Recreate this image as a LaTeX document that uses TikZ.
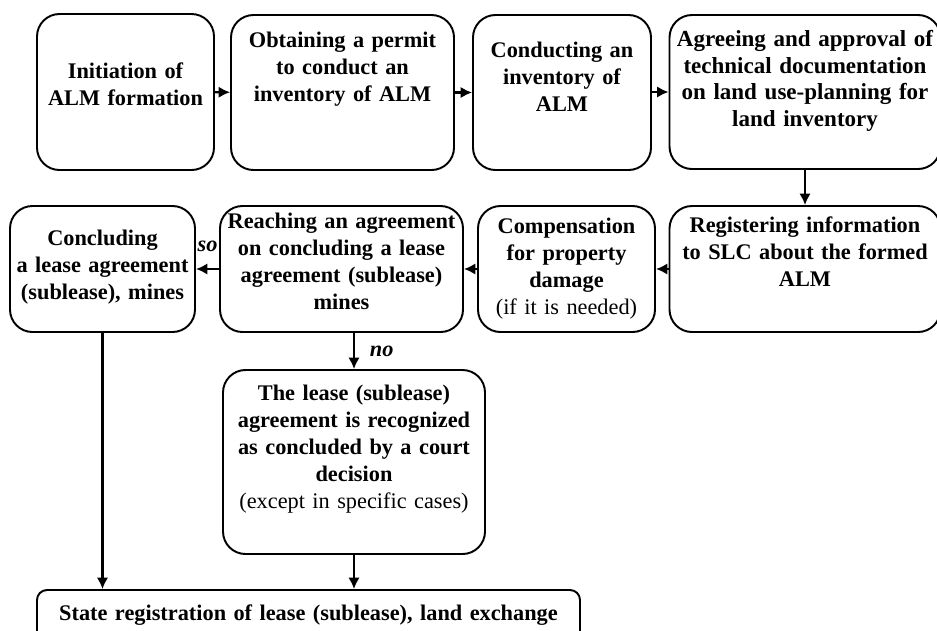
\documentclass[tikz,border=0pt]{standalone}
\usepackage{fontspec}
\setmainfont{Liberation Serif}
\usepackage{tikz}
\usetikzlibrary{arrows.meta}

\begin{document}
\begin{tikzpicture}[
    stage/.style={draw, line width=1.1pt, rounded corners=0.45cm, inner sep=0pt,
      align=center, font=\fontsize{12.7}{15.4}\selectfont\bfseries},
    arrowline/.style={line width=1.2pt, -{Latex[length=2.3mm,width=2.3mm]}},
    answer/.style={font=\fontsize{12.7}{15.4}\selectfont\bfseries\itshape}]
\useasboundingbox (0,0) rectangle (18.74,-12.6);
   % first row
   \node[stage, text width=3.54cm, minimum height=3.12cm, text depth=0.86cm] (init) at (2.51,-1.84)
      {Initiation of\\ALM formation};
   \node[stage, text width=4.46cm, minimum height=3.10cm, text depth=2.12cm] (permit) at (6.85,-1.85)
      {Obtaining a permit\\to conduct an\\inventory of ALM};
   \node[stage, text width=3.56cm, minimum height=3.10cm, text depth=1.72cm] (conduct) at (11.24,-1.85)
      {Conducting an\\inventory of\\ALM};
   \node[stage, text width=5.42cm, minimum height=3.08cm, text depth=2.15cm,
      font=\fontsize{13.1}{15.2}\selectfont\bfseries] (approve) at (16.10,-1.84)
      {Agreeing and approval of\\technical documentation\\on land use-planning for\\land inventory};
   % second row
   \node[stage, text width=5.42cm, minimum height=2.52cm, text depth=1.78cm] (register) at (16.10,-5.38)
      {Registering information\\to SLC about the formed\\ALM};
   \node[stage, text width=3.54cm, minimum height=2.52cm, text depth=1.74cm] (comp) at (11.33,-5.38)
      {Compensation\\for property\\damage\\{\mdseries(if it is needed)}};
   \node[stage, text width=4.86cm, minimum height=2.52cm, text depth=1.94cm] (reach) at (6.83,-5.38)
      {Reaching an agreement\\on concluding a lease\\agreement (sublease)\\mines};
   \node[stage, text width=3.70cm, minimum height=2.52cm, text depth=1.26cm] (concl) at (2.05,-5.38)
      {Concluding\\a lease agreement\\(sublease), mines};
   % court and registration
   \node[stage, text width=5.24cm, minimum height=3.68cm, text depth=2.78cm] (lease) at (7.08,-9.24)
      {The lease (sublease)\\agreement is recognized\\as concluded by a court\\decision\\{\mdseries(except in specific cases)}};
   \node[stage, text width=10.86cm, minimum height=1.4cm, text depth=0.5cm, rounded corners=0.2cm] (state) at (6.17,-12.5)
      {State registration of lease (sublease), land exchange};

   \draw[arrowline] (init) -- (permit);
   \draw[arrowline] (permit) -- (conduct);
   \draw[arrowline] (conduct.east |- approve.west) -- (approve.west);
   \draw[arrowline] (approve) -- (register);
   \draw[arrowline] (register) -- (comp);
   \draw[arrowline] (comp) -- (reach);
   \draw[arrowline] (reach) -- node[answer, above=0.2cm] (so) {so} (concl);
   \draw[arrowline] (reach.south -| lease.north) -- node[answer, right=0.18cm] (no) {no} (lease.north);
   \draw[arrowline] (lease) -- (lease.south |- state.north);
   \draw[arrowline] (concl) -- (concl.south |- state.north);
\end{tikzpicture}
\end{document}
